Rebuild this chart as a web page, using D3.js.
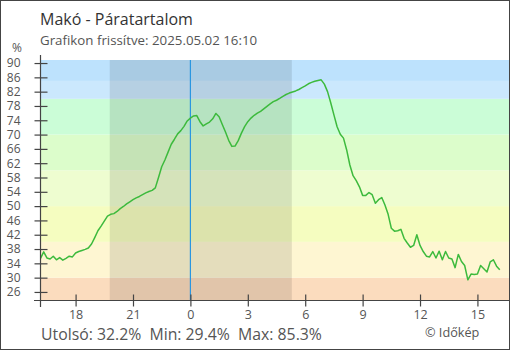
<!DOCTYPE html>
<html><head><meta charset="utf-8">
<script src="https://cdn.jsdelivr.net/npm/d3@7"></script>
<style>
html,body{margin:0;padding:0;background:#fff;}
svg{display:block;font-family:"Open Sans",sans-serif;}
</style></head>
<body>
<svg id="c" width="510" height="350"></svg>
<script>
// ---- data (10-minute readings, hours relative to midnight of 2025.05.02) ----
const startHour = -7 - 50/60;   // 16:10 previous day
const stepHours = 10/60;
const humidity = [
35.4,37.2,35.5,35.2,36.0,35.0,35.6,34.9,35.4,36.0,
35.8,36.9,37.3,37.6,37.9,38.3,39.4,41.2,43.1,44.4,
45.8,47.2,47.7,47.9,48.5,49.3,49.9,50.6,51.2,51.8,
52.3,52.7,53.2,53.7,54.1,54.4,55.1,58.0,61.0,62.9,
65.1,67.3,68.7,70.2,71.1,72.3,73.8,74.6,75.2,75.3,
73.6,72.4,73.0,73.5,74.4,75.9,75.0,72.8,70.7,68.4,
66.7,66.8,68.3,70.4,72.2,73.6,74.6,75.4,76.0,76.5,
77.2,77.9,78.6,79.2,79.6,80.1,80.7,81.2,81.6,81.9,
82.2,82.6,83.1,83.6,84.2,84.6,84.9,85.1,85.3,84.1,
82.0,78.9,75.5,72.2,70.1,69.0,65.7,61.5,58.5,57.1,
55.4,53.0,53.0,53.8,53.2,50.8,51.8,52.4,50.3,47.7,
43.8,43.0,43.1,43.5,41.0,39.7,38.5,39.0,42.0,39.0,
37.3,36.0,35.8,37.3,35.5,37.4,35.0,37.3,35.5,35.2,
32.8,36.5,34.5,33.4,29.4,31.0,30.9,31.0,33.4,32.5,
31.6,34.4,35.0,33.2,32.2
];
const yTicks = [26,30,34,38,42,46,50,54,58,62,66,70,74,78,82,86,90];
const xTickHours = [-6,-3,0,3,6,9,12,15];
const xTickLabels = ["18","21","0","3","6","9","12","15"];
const bandEdges = [23.75,30,40,50,60,70,80,85,90.85];
const bandColors = ["#fbdcbe","#fef6d2","#f5fdc0","#eefdd0","#dcfdcb","#cbfdd7","#cbe8fd","#bde2fd"];
const nightStart = -4 - 13/60;  // 19:47
const nightEnd = 5 + 18/60;     // 05:18
const title = "Makó - Páratartalom";
const subtitle = "Grafikon frissítve: 2025.05.02 16:10";

// ---- layout ----
const svg = d3.select("#c");
const L = 40, R = 509, T = 60, B = 300;
const x = d3.scaleLinear().domain([-7.86, 16.65]).range([L, R]);
const y = d3.scaleLinear().domain([23.75, 90.85]).range([B, T]);

svg.append("rect").attr("width",510).attr("height",350).attr("fill","#fff");

// bands
const bands = bandColors.map((c,i)=>({lo:bandEdges[i],hi:bandEdges[i+1],c}));
svg.append("g").selectAll("rect").data(bands).join("rect")
  .attr("x",L).attr("width",R-L)
  .attr("y",d=>y(d.hi)).attr("height",d=>y(d.lo)-y(d.hi))
  .attr("fill",d=>d.c);

// night shading
svg.append("rect").attr("x",x(nightStart)).attr("width",x(nightEnd)-x(nightStart))
  .attr("y",T).attr("height",B-T).attr("fill","rgba(0,0,0,0.1)");

// midnight line
svg.append("line").attr("x1",x(0)).attr("x2",x(0)).attr("y1",T).attr("y2",B)
  .attr("stroke","#2a96e0").attr("stroke-width",1.2);

// line
const pts = humidity.map((v,i)=>({h:startHour+i*stepHours,v}));
svg.append("path").datum(pts)
  .attr("fill","none").attr("stroke","#3dba3d").attr("stroke-width",1.5)
  .attr("stroke-linejoin","round")
  .attr("d",d3.line().x(d=>x(d.h)).y(d=>y(d.v)));

// y axis
const ya = svg.append("g").attr("transform",`translate(${L+0.5},0)`)
  .call(d3.axisLeft(y).tickValues(yTicks).tickSize(6).tickPadding(14).tickFormat(d3.format("d")));
ya.select(".domain").remove();
ya.selectAll(".tick line").attr("x1",-6).attr("x2",7).attr("stroke","#444").attr("stroke-width",1.2);
ya.selectAll(".tick text").attr("fill","#555").style("font-size","12px").attr("font-family","Open Sans");
svg.append("line").attr("x1",L+0.5).attr("x2",L+0.5).attr("y1",55).attr("y2",307)
  .attr("stroke","#444").attr("stroke-width",1.2);

// x axis
const xa = svg.append("g").attr("transform",`translate(0,${B+0.5})`)
  .call(d3.axisBottom(x).tickValues(xTickHours).tickSize(6).tickPadding(4)
    .tickFormat((d,i)=>xTickLabels[i]));
xa.select(".domain").remove();
xa.selectAll(".tick line").attr("y1",-6).attr("y2",6).attr("stroke","#444").attr("stroke-width",1.2);
xa.selectAll(".tick text").attr("fill","#555").style("font-size","12.5px").attr("font-family","Open Sans");
svg.append("line").attr("x1",34).attr("x2",R).attr("y1",B+0.5).attr("y2",B+0.5)
  .attr("stroke","#444").attr("stroke-width",1.2);

// texts
svg.append("text").attr("x",40).attr("y",25).attr("fill","#333")
  .style("font-size","16px").text(title);
svg.append("text").attr("x",40).attr("y",45).attr("fill","#555")
  .style("font-size","13.3px").text(subtitle);
svg.append("text").attr("x",17).attr("y",52).attr("fill","#555").attr("text-anchor","middle")
  .style("font-size","12px").text("%");

const last = humidity[humidity.length-1], mn = d3.min(humidity), mx = d3.max(humidity);
svg.append("text").attr("x",41).attr("y",340).attr("fill","#555")
  .style("font-size","15.8px").attr("xml:space","preserve")
  .text(`Utolsó: ${last.toFixed(1)}%  Min: ${mn.toFixed(1)}%  Max: ${mx.toFixed(1)}%`);
svg.append("text").attr("x",425).attr("y",337).attr("fill","#555")
  .style("font-size","12.7px").text("© Időkép");

// frame
svg.append("rect").attr("x",0.5).attr("y",0.5).attr("width",509).attr("height",349)
  .attr("fill","none").attr("stroke","#444").attr("stroke-width",1);
</script>
</body></html>
